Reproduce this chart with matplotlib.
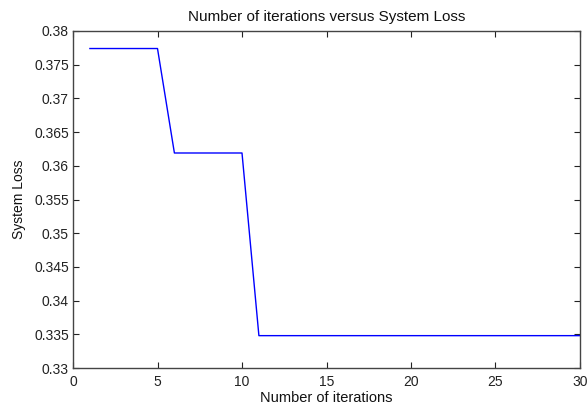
import matplotlib
matplotlib.use("Agg")
import matplotlib.pyplot as plt

iterations = list(range(1, 31))
loss = [0.3774]*5 + [0.3619]*5 + [0.3348]*20
xticks = [0, 5, 10, 15, 20, 25, 30]
yticks = [0.33, 0.335, 0.34, 0.345, 0.35, 0.355, 0.36, 0.365, 0.37, 0.375, 0.38]
ytick_labels = ["0.33", "0.335", "0.34", "0.345", "0.35", "0.355", "0.36", "0.365", "0.37", "0.375", "0.38"]

plt.rcParams['font.family'] = ['Liberation Sans', 'DejaVu Sans']
fig = plt.figure(figsize=(5.88, 4.04), dpi=100)
ax = fig.add_axes([73/588, 1-368/404, (580-73)/588, (368-31)/404])
ax.plot(iterations, loss, color='#0000ff', lw=1.0)
ax.set_xlim(0, 30)
ax.set_ylim(0.33, 0.38)
ax.set_xticks(xticks)
ax.set_yticks(yticks)
ax.set_yticklabels(ytick_labels)
ax.tick_params(direction='in', top=True, right=True, labelsize=10, length=4, pad=3,
               color='#222222', labelcolor='#222222')
ax.tick_params(axis='x', pad=5)
for s in ax.spines.values():
    s.set_linewidth(1.0)
    s.set_color('#444444')
ax.set_xlabel("Number of iterations", fontsize=10.5, labelpad=1.5, color='#111111')
ax.set_ylabel("System Loss", fontsize=10, labelpad=6, color='#111111')
ax.set_title("Number of iterations versus System Loss", fontsize=11, pad=7, color='#111111')
fig.savefig("out.png", dpi=100)
